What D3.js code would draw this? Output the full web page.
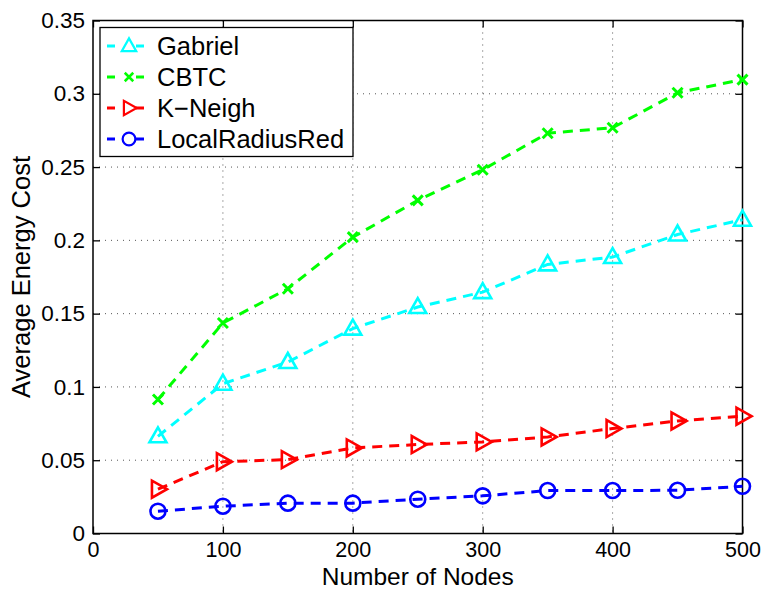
<!DOCTYPE html>
<html><head><meta charset="utf-8">
<script src="https://cdn.jsdelivr.net/npm/d3@7"></script>
<style>body{margin:0;background:#fff;} svg{display:block;}</style>
</head><body>
<svg id="c" width="765" height="590"></svg>
<script>
const nodes = [50,100,150,200,250,300,350,400,450,500];
const gabriel = [0.0663,0.1022,0.1170,0.1398,0.1545,0.1647,0.1836,0.1886,0.2040,0.2141];
const cbtc = [0.0914,0.1436,0.1670,0.2022,0.2273,0.2482,0.2731,0.2768,0.3007,0.3097];
const kneigh = [0.0302,0.0490,0.0504,0.0584,0.0607,0.0625,0.0659,0.0716,0.0768,0.0800];
const lrr = [0.0152,0.0186,0.0207,0.0207,0.0234,0.0257,0.0293,0.0293,0.0295,0.0322];
const xTicks = [0,100,200,300,400,500];
const yTicks = [0,0.05,0.1,0.15,0.2,0.25,0.3,0.35];
const seriesNames = ["Gabriel","CBTC","K\u2212Neigh","LocalRadiusRed"];
const seriesColors = ["#00ffff","#00ff00","#ff0000","#0000ff"];
const seriesMarkers = ["tri","x","rtri","circ"];
const seriesData = [gabriel,cbtc,kneigh,lrr];

const svg = d3.select("#c");
const L=93, T=20.5, R=742.5, B=533.5;
const x = d3.scaleLinear().domain([0,500]).range([L,R]);
const y = d3.scaleLinear().domain([0,0.35]).range([B,T]);
const font = "'Liberation Sans', Arial, Helvetica, sans-serif";

// grid
const g = svg.append("g");
g.selectAll(".gx").data(xTicks.slice(1,-1)).enter().append("line")
 .attr("x1",d=>x(d)).attr("x2",d=>x(d)).attr("y1",T).attr("y2",B)
 .attr("stroke","#555").attr("stroke-width",1).attr("stroke-dasharray","1,5");
g.selectAll(".gy").data(yTicks.slice(1,-1)).enter().append("line")
 .attr("y1",d=>y(d)).attr("y2",d=>y(d)).attr("x1",L).attr("x2",R)
 .attr("stroke","#555").attr("stroke-width",1).attr("stroke-dasharray","1,5");

// axes
const xb = d3.axisBottom(x).tickValues(xTicks).tickSize(-7).tickPadding(8.5).tickFormat(d3.format("d"));
const xt = d3.axisTop(x).tickValues(xTicks).tickSize(-7).tickFormat("");
const yl = d3.axisLeft(y).tickValues(yTicks).tickSize(-7).tickPadding(8).tickFormat(d=>d===0?"0":String(+d.toFixed(2)));
const yr = d3.axisRight(y).tickValues(yTicks).tickSize(-7).tickFormat("");
function style(sel){
  sel.select(".domain").remove();
  sel.selectAll("line").attr("stroke","#000").attr("stroke-width",1.3);
  sel.selectAll("text").attr("fill","#000").style("font-family",font).style("font-size","22.5px");
}
svg.append("g").attr("transform",`translate(0,${B})`).call(xb).call(style).selectAll("text").style("font-size","21.5px");
svg.append("g").attr("transform",`translate(0,${T})`).call(xt).call(style);
svg.append("g").attr("transform",`translate(${L},0)`).call(yl).call(style);
svg.append("g").attr("transform",`translate(${R},0)`).call(yr).call(style);
svg.append("rect").attr("x",L).attr("y",T).attr("width",R-L).attr("height",B-T)
 .attr("fill","none").attr("stroke","#000").attr("stroke-width",1.5);

// axis labels
svg.append("text").attr("x",(L+R)/2).attr("y",584.5).attr("text-anchor","middle")
 .style("font-family",font).style("font-size","24.5px").text("Number of Nodes");
svg.append("text").attr("transform",`translate(30,${(T+B)/2}) rotate(-90)`).attr("text-anchor","middle")
 .style("font-family",font).style("font-size","25.5px").text("Average Energy Cost");

function marker(sel, type, color){
  const sw = 2.6;
  if(type==="tri"){
    sel.append("path").attr("d","M0,-9 L8.5,6 L-8.5,6 Z").attr("fill","none").attr("stroke",color).attr("stroke-width",sw);
  } else if(type==="rtri"){
    sel.append("path").attr("d","M9,0 L-6,-8.5 L-6,8.5 Z").attr("fill","none").attr("stroke",color).attr("stroke-width",sw);
  } else if(type==="circ"){
    sel.append("circle").attr("r",7.5).attr("fill","none").attr("stroke",color).attr("stroke-width",sw);
  } else {
    sel.append("path").attr("d","M-5,-5 L5,5 M-5,5 L5,-5").attr("fill","none").attr("stroke",color).attr("stroke-width",3);
  }
}

const line = d3.line().x(d=>x(d[0])).y(d=>y(d[1]));
seriesData.forEach((vals,i)=>{
  const pts = nodes.map((n,j)=>[n,vals[j]]);
  svg.append("path").datum(pts).attr("d",line).attr("fill","none")
   .attr("stroke",seriesColors[i]).attr("stroke-width",3).attr("stroke-dasharray","10,7");
  pts.forEach(p=>{
    const m = svg.append("g").attr("transform",`translate(${x(p[0])},${y(p[1])})`);
    marker(m, seriesMarkers[i], seriesColors[i]);
  });
});

// legend
const lg = svg.append("g");
lg.append("rect").attr("x",100).attr("y",27.5).attr("width",253).attr("height",129)
 .attr("fill","#fff").attr("stroke","#000").attr("stroke-width",1.3);
seriesNames.forEach((name,i)=>{
  const cy = 46 + i*31;
  const c = seriesColors[i];
  lg.append("line").attr("x1",107).attr("x2",151).attr("y1",cy).attr("y2",cy)
   .attr("stroke",c).attr("stroke-width",3).attr("stroke-dasharray","8,7,0,14,8");
  const m = lg.append("g");
  marker(m, seriesMarkers[i], c);
  m.attr("transform",`translate(129,${cy}) scale(0.85)`);
  lg.append("text").attr("x",157).attr("y",cy).attr("dy","0.36em")
   .style("font-family",font).style("font-size","25.5px").text(name);
});
</script>
</body></html>
